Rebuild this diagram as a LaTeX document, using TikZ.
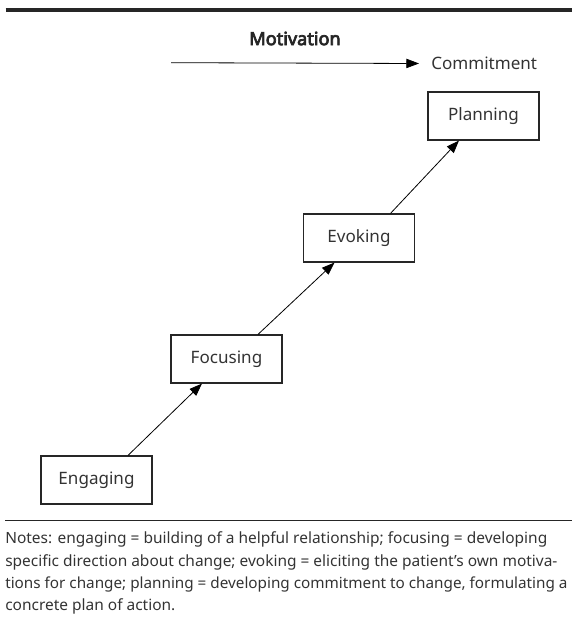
\documentclass[tikz,border=0pt]{standalone}
\usepackage{fontspec}
\setmainfont{Noto Sans}
\newfontfamily\motivfont{Noto Sans}[FakeBold=4]
\usetikzlibrary{arrows.meta}
\begin{document}
\begin{tikzpicture}[x=0.75pt,y=-0.75pt,
  stage/.style={draw=black!85,line width=0.85pt,minimum width=83.25pt,minimum height=36pt,inner sep=0pt,font=\fontsize{12.8}{14}\selectfont,text=black!80},
  conn/.style={line width=0.6pt,-{Triangle[length=9.5pt,width=7pt]}},
  lbl/.style={font=\fontsize{12.8}{14}\selectfont,text=black!80,inner sep=0pt},
  note/.style={anchor=base west,inner sep=0pt,text=black!80,font=\fontsize{11.6}{14}\selectfont}]
\useasboundingbox (0,0) rectangle (572,623);
\draw[line width=3.2pt,black!85] (5.5,9.8) -- (572,9.8);
\coordinate (ms) at (171,62.7);
\node[lbl,anchor=west] (commit) at (431,63.5) {Commitment};
\draw[conn] (ms) -- ([xshift=-9pt]commit.west);
\node[lbl,font=\fontsize{13.6}{15}\motivfont,text=black!85] (motiv) at (295,38.5) {Motivation};
\node[stage] (eng) at (96.5,480) {Engaging};
\node[stage] (foc) at (226.5,359) {Focusing};
\node[stage] (evo) at (359,238) {Evoking};
\node[stage] (pla) at (483.5,116) {Planning};
\draw[conn] ([xshift=23.6pt]eng.north) -- ([xshift=-18.4pt]foc.south);
\draw[conn] ([xshift=23.6pt]foc.north) -- ([xshift=-18.4pt]evo.south);
\draw[conn] ([xshift=23.6pt]evo.north) -- ([xshift=-18.4pt]pla.south);
\draw[line width=0.8pt,black!85] (5,520.5) -- (572,520.5);
\node[note] (n1) at (5,543.5) {Notes: engaging = building of a helpful relationship; focusing = developing};
\node[note] (n2) at (5,566) {specific direction about change; evoking = eliciting the patient’s own motiva-};
\node[note,font=\fontsize{11.45}{14}\selectfont] (n3) at (5,588) {tions for change; planning = developing commitment to change, formulating a};
\node[note] (n4) at (5,610) {concrete plan of action.};
\end{tikzpicture}
\end{document}
